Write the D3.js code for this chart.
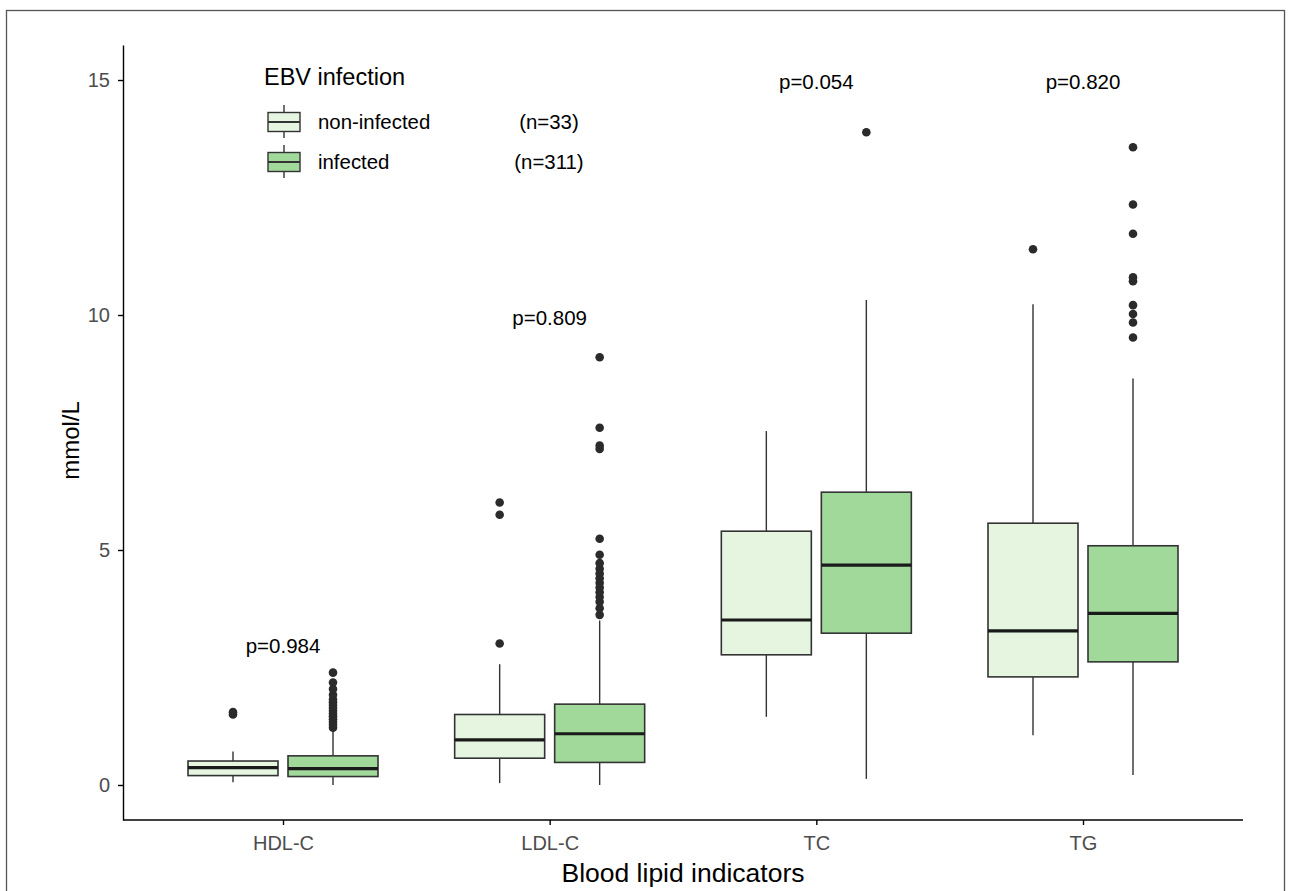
<!DOCTYPE html>
<html>
<head>
<meta charset="utf-8">
<script src="https://cdn.jsdelivr.net/npm/d3@7"></script>
<style>
  body { margin: 0; background: #fff; }
  svg { display: block; font-family: "Liberation Sans", Arial, sans-serif; }
  .axis path, .axis line { stroke: #000; stroke-width: 1.4px; }
</style>
</head>
<body>
<div id="chart"></div>
<script>
// categories and groups
const categories = ["HDL-C", "LDL-C", "TC", "TG"];
const groups = ["non-infected", "infected"];
const groupCounts = ["(n=33)", "(n=311)"];
const groupColors = ["#e5f5e0", "#a1d99b"];

// box statistics, one value per category
const nonInfLow    = [0.06, 0.04, 1.45, 1.06];
const nonInfQ1     = [0.20, 0.57, 2.77, 2.30];
const nonInfMedian = [0.37, 0.96, 3.51, 3.28];
const nonInfQ3     = [0.51, 1.50, 5.40, 5.57];
const nonInfHigh   = [0.71, 2.57, 7.53, 10.23];
const nonInfOutliers = [
    [1.50, 1.55],
    [3.01, 5.75, 6.01],
    [],
    [11.40]
];

const infLow    = [0.00, 0.00, 0.13, 0.21];
const infQ1     = [0.18, 0.48, 3.23, 2.62];
const infMedian = [0.35, 1.09, 4.68, 3.65];
const infQ3     = [0.62, 1.72, 6.23, 5.09];
const infHigh   = [1.17, 3.50, 10.32, 8.65];
const infOutliers = [
    [1.22, 1.28, 1.34, 1.40, 1.46, 1.52, 1.58, 1.64, 1.70, 1.76, 1.82, 1.92, 2.04, 2.18, 2.39],
    [3.62, 3.76, 3.90, 4.00, 4.10, 4.20, 4.30, 4.40, 4.50, 4.60, 4.72, 4.90, 5.24, 7.15, 7.22, 7.60, 9.10],
    [13.89],
    [9.52, 9.84, 10.02, 10.21, 10.72, 10.80, 11.73, 12.35, 13.57]
];

// p-value annotations
const pLabels = ["p=0.984", "p=0.809", "p=0.054", "p=0.820"];
const pLabelY = [2.97, 9.95, 14.97, 14.97];

const yTicks = [0, 5, 10, 15];

// build box rows from the arrays
const boxes = [];
categories.forEach((c, i) => {
    boxes.push({ cat: c, g: 0, low: nonInfLow[i], q1: nonInfQ1[i], med: nonInfMedian[i], q3: nonInfQ3[i], high: nonInfHigh[i], out: nonInfOutliers[i] });
    boxes.push({ cat: c, g: 1, low: infLow[i], q1: infQ1[i], med: infMedian[i], q3: infQ3[i], high: infHigh[i], out: infOutliers[i] });
});

const W = 1292, H = 891;
const margin = { top: 45, right: 49, bottom: 71, left: 123 };

const svg = d3.select("#chart")
    .append("svg")
    .attr("width", W)
    .attr("height", H);

// outer frame
svg.append("rect")
    .attr("x", 6.5).attr("y", 10.5)
    .attr("width", 1278).attr("height", 900)
    .attr("fill", "none")
    .attr("stroke", "#555")
    .attr("stroke-width", 1.3);

// scales
const x = d3.scalePoint()
    .domain(categories)
    .range([margin.left, W - margin.right])
    .padding(0.6);

const y = d3.scaleLinear()
    .domain([-0.745, 15.745])
    .range([H - margin.bottom, margin.top]);

const step = x.step();
const dodge = d3.scaleLinear().domain([0, 1]).range([-0.1875 * step, 0.1875 * step]);
const boxW = 0.3375 * step;

// axes
svg.append("g")
    .attr("class", "axis x-axis")
    .attr("transform", `translate(0,${H - margin.bottom})`)
    .call(d3.axisBottom(x).tickSize(5).tickSizeOuter(0).tickPadding(11))
    .call(g => g.select(".domain").attr("d", `M${margin.left},0H${W - margin.right}`))
    .call(g => g.selectAll("text").style("font-size", "20px").style("fill", "#4d4d4d"));

svg.append("g")
    .attr("class", "axis y-axis")
    .attr("transform", `translate(${margin.left},0)`)
    .call(d3.axisLeft(y).tickValues(yTicks).tickSize(5).tickSizeOuter(0).tickPadding(8))
    .call(g => g.selectAll("text").style("font-size", "20px").style("fill", "#4d4d4d"));

// axis titles
svg.append("text")
    .attr("x", (margin.left + W - margin.right) / 2)
    .attr("y", 882)
    .attr("text-anchor", "middle")
    .style("font-size", "26.5px")
    .text("Blood lipid indicators");

svg.append("text")
    .attr("transform", `translate(79,${(margin.top + H - margin.bottom) / 2 + 8}) rotate(-90)`)
    .attr("text-anchor", "middle")
    .style("font-size", "24px")
    .text("mmol/L");

// boxplots
const bx = d => x(d.cat) + dodge(d.g);
const plot = svg.append("g");

const box = plot.selectAll(".box")
    .data(boxes)
    .enter().append("g")
    .attr("class", "box");

box.append("line")
    .attr("x1", bx).attr("x2", bx)
    .attr("y1", d => y(d.high)).attr("y2", d => y(d.q3))
    .attr("stroke", "#333").attr("stroke-width", 1.4);

box.append("line")
    .attr("x1", bx).attr("x2", bx)
    .attr("y1", d => y(d.q1)).attr("y2", d => y(d.low))
    .attr("stroke", "#333").attr("stroke-width", 1.4);

box.append("rect")
    .attr("x", d => bx(d) - boxW / 2)
    .attr("y", d => y(d.q3))
    .attr("width", boxW)
    .attr("height", d => y(d.q1) - y(d.q3))
    .attr("fill", d => groupColors[d.g])
    .attr("stroke", "#333")
    .attr("stroke-width", 1.6);

box.append("line")
    .attr("x1", d => bx(d) - boxW / 2).attr("x2", d => bx(d) + boxW / 2)
    .attr("y1", d => y(d.med)).attr("y2", d => y(d.med))
    .attr("stroke", "#1a1a1a").attr("stroke-width", 3.2);

box.selectAll(".dot")
    .data(d => d.out.map(v => ({ cx: bx(d), v })))
    .enter().append("circle")
    .attr("class", "dot")
    .attr("cx", d => d.cx)
    .attr("cy", d => y(d.v))
    .attr("r", 4.3)
    .attr("fill", "#2b2b2b");

// p-values
svg.selectAll(".pval")
    .data(categories)
    .enter().append("text")
    .attr("class", "pval")
    .attr("x", d => x(d))
    .attr("y", (d, i) => y(pLabelY[i]))
    .attr("dy", "0.35em")
    .attr("text-anchor", "middle")
    .style("font-size", "20.5px")
    .text((d, i) => pLabels[i]);

// legend
const legend = svg.append("g").attr("transform", "translate(264,0)");

legend.append("text")
    .attr("x", 0).attr("y", 85)
    .style("font-size", "23.5px")
    .text("EBV infection");

const keyY = d3.scalePoint().domain(groups).range([122, 162]);

const key = legend.selectAll(".key")
    .data(groups)
    .enter().append("g")
    .attr("class", "key")
    .attr("transform", d => `translate(0,${keyY(d)})`);

key.append("line")
    .attr("x1", 20).attr("x2", 20)
    .attr("y1", -17).attr("y2", 16)
    .attr("stroke", "#333").attr("stroke-width", 1.4);

key.append("rect")
    .attr("x", 4).attr("y", -9.5)
    .attr("width", 32).attr("height", 19)
    .attr("fill", (d, i) => groupColors[i])
    .attr("stroke", "#333").attr("stroke-width", 1.4);

key.append("line")
    .attr("x1", 4).attr("x2", 36)
    .attr("y1", 0).attr("y2", 0)
    .attr("stroke", "#333").attr("stroke-width", 2);

key.append("text")
    .attr("x", 54).attr("y", 0)
    .attr("dy", "0.35em")
    .style("font-size", "20.4px")
    .text(d => d);

key.append("text")
    .attr("x", 285).attr("y", 0)
    .attr("dy", "0.35em")
    .attr("text-anchor", "middle")
    .style("font-size", "20.4px")
    .text((d, i) => groupCounts[i]);
</script>
</body>
</html>
